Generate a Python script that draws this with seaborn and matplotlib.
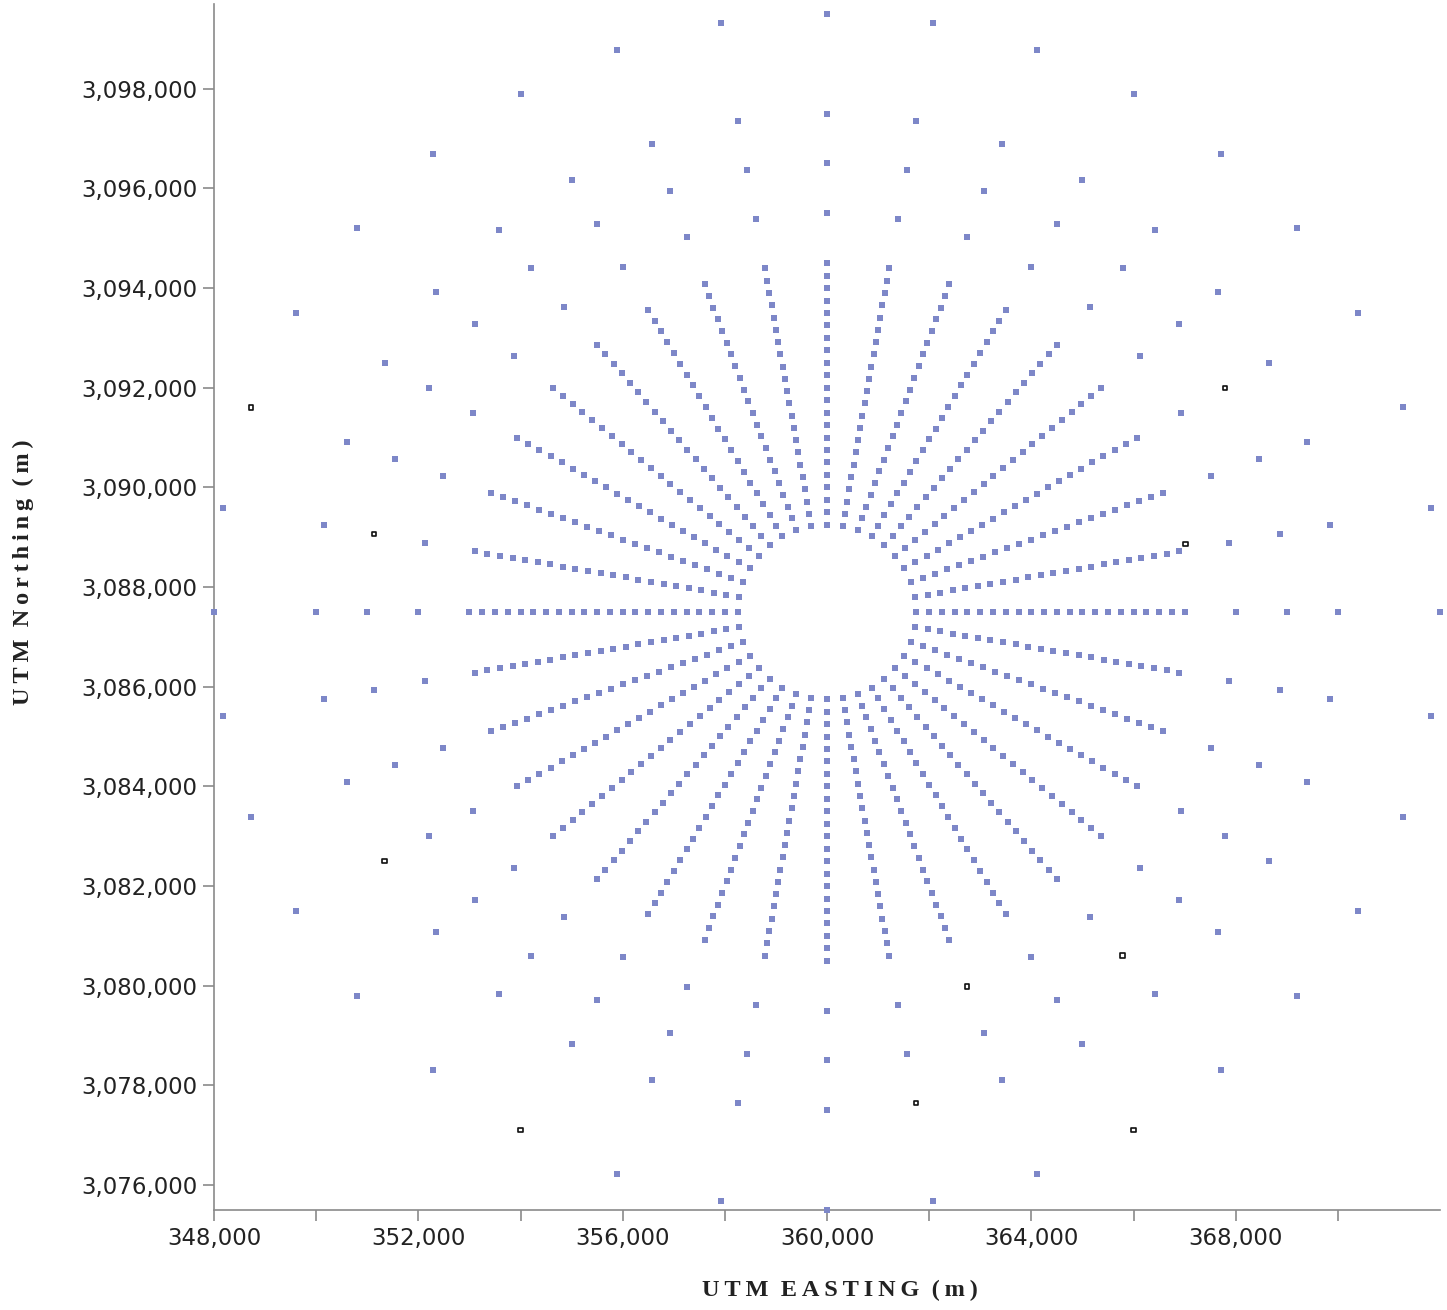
import numpy as np, pandas as pd
import matplotlib as mpl, matplotlib.pyplot as plt
import seaborn as sns
from matplotlib.ticker import FixedLocator, FuncFormatter

sns.set_theme(style="white")
mpl.rcParams["font.family"] = ["DejaVu Sans"]

# receptor grid centre (UTM, m)
cx, cy = 360000, 3087500
# ray directions (deg from north)
directions = [0, 10, 20, 30, 40, 50, 60, 70, 80, 90, 100, 110, 120, 130, 140, 150, 160, 170,
              180, 190, 200, 210, 220, 230, 240, 250, 260, 270, 280, 290, 300, 310, 320, 330, 340, 350]
# dense ring distances (m)
dense_radii = [1750, 2000, 2250, 2500, 2750, 3000, 3250, 3500, 3750, 4000, 4250,
               4500, 4750, 5000, 5250, 5500, 5750, 6000, 6250, 6500, 6750, 7000]
# outer ring distances (m)
outer_radii = [8000, 9000, 10000, 12000]

# receptors drawn as black hollow squares (direction, distance)
disc_dir = [280, 240, 210, 170, 160, 150, 140, 60, 290, 79]
disc_r = [9000, 10000, 12000, 10000, 8000, 12000, 9000, 9000, 12000, 7150]

xticks = [348000, 350000, 352000, 354000, 356000, 358000, 360000, 362000, 364000, 366000, 368000, 370000]
xlabels = ["348,000", "", "352,000", "", "356,000", "", "360,000", "", "364,000", "", "368,000", ""]
yticks = [3076000, 3078000, 3080000, 3082000, 3084000, 3086000, 3088000, 3090000,
          3092000, 3094000, 3096000, 3098000]


def to_utm(d, r):
    t = np.deg2rad(d)
    return cx + r * np.sin(t), cy + r * np.cos(t)


black = set(zip(disc_dir, disc_r))
rows = []
for d in directions:
    for r in dense_radii + outer_radii:
        if (d, r) not in black:
            rows.append(to_utm(d, r))
grid = pd.DataFrame(rows, columns=["x", "y"])
disc = pd.DataFrame([to_utm(d, r) for d, r in zip(disc_dir, disc_r)], columns=["x", "y"])

W, H = 1447, 1310
fig = plt.figure(figsize=(W / 100, H / 100), dpi=100)
ax = fig.add_axes([214 / W, 1 - 1210 / H, (1440 - 214) / W, (1210 - 4) / H])

sns.scatterplot(data=grid, x="x", y="y", marker="s", s=14, color="#7d87c8",
                linewidth=0, ax=ax, clip_on=False, zorder=3)
sns.scatterplot(data=disc, x="x", y="y", marker="s", s=10, facecolor="none",
                edgecolor="#111111", linewidth=1.2, ax=ax, clip_on=False, zorder=4)

ax.set_xlim(348000, 372000)
ax.set_ylim(3075500, 3099700)

ax.xaxis.set_major_locator(FixedLocator(xticks))
ax.set_xticklabels(xlabels)
ax.yaxis.set_major_locator(FixedLocator(yticks))
ax.yaxis.set_major_formatter(FuncFormatter(lambda v, p: f"{int(v):,}"))

for s in ["top", "right"]:
    ax.spines[s].set_visible(False)
for s in ["left", "bottom"]:
    ax.spines[s].set_color("#8a8a8a")
    ax.spines[s].set_linewidth(1.2)
ax.tick_params(axis="both", which="major", direction="out", length=8, width=1.2,
               color="#8a8a8a", labelsize=16.5, labelcolor="#222222", pad=4,
               bottom=True, left=True)

ts = "\u2009"
lab = dict(family=["Liberation Serif", "DejaVu Serif"], fontweight="bold", fontsize=17.5, color="#222222")
ax.set_xlabel(ts.join("UTM") + "  " + ts.join("EASTING") + "  " + ts.join("(m)"), **lab)
ax.set_ylabel(ts.join("UTM") + "  " + ts.join("Northing") + "  " + ts.join("(m)"), **lab)
ax.xaxis.set_label_coords((840 - 214) / 1226, -(1280 - 1210) / 1206)
ax.yaxis.set_label_coords(-(214 - 34) / 1226, (1210 - 572) / 1206)

fig.savefig("out.png", dpi=100)
